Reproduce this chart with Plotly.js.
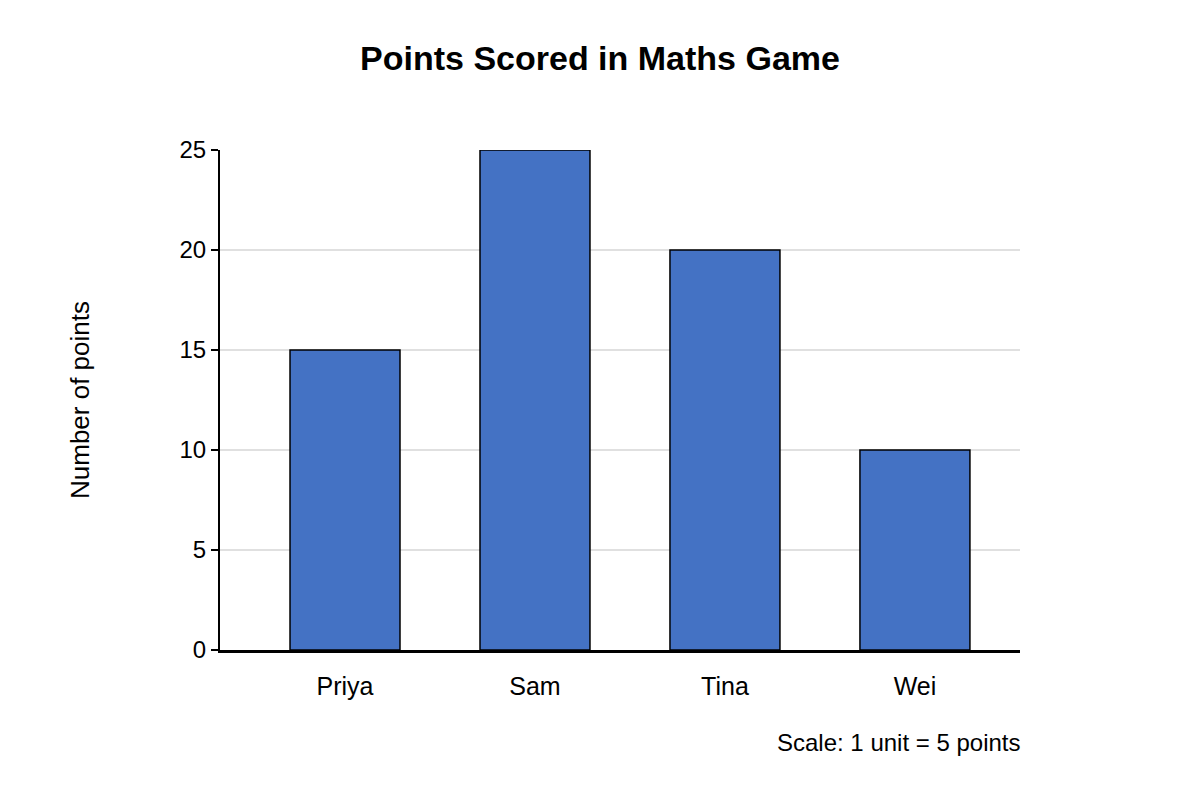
<!DOCTYPE html>
<html>
<head>
<meta charset="utf-8">
<script src="https://cdn.plot.ly/plotly-3.0.1.min.js"></script>
<style>html,body{margin:0;padding:0;background:#fff;}#chart{width:1200px;height:800px;}</style>
</head>
<body>
<div id="chart"></div>
<script>
const categories = ["Priya", "Sam", "Tina", "Wei"];
const points = [15, 25, 20, 10];
const yTicks = [0, 5, 10, 15, 20, 25];
const chartTitle = "Points Scored in Maths Game";
const yTitle = "Number of points";
const scaleNote = "Scale: 1 unit = 5 points";

const font = "Liberation Sans, Arial, sans-serif";

Plotly.newPlot("chart", [{
  type: "bar",
  x: categories,
  y: points,
  width: 0.579,
  marker: {color: "#4472C4", line: {color: "#000000", width: 1.5}},
  hoverinfo: "x+y"
}], {
  width: 1200, height: 800,
  paper_bgcolor: "#ffffff", plot_bgcolor: "#ffffff",
  margin: {l: 220, r: 180, t: 150, b: 150, pad: 0},
  font: {family: font, color: "#000"},
  title: {text: "<b>" + chartTitle + "</b>", font: {size: 34, family: font, color: "#000"}, x: 0.5, xanchor: "center", y: 0.927, yanchor: "middle"},
  showlegend: false,
  xaxis: {
    type: "category",
    range: [-0.658, 3.553],
    showline: true, linecolor: "#000", linewidth: 2.5,
    showgrid: false, ticks: "",
    tickfont: {size: 25, family: font, color: "#000"},
    ticklabelstandoff: 12,
    fixedrange: true
  },
  yaxis: {
    range: [0, 25],
    tickvals: yTicks,
    ticktext: yTicks.map(String),
    showline: true, linecolor: "#000", linewidth: 2,
    ticks: "outside", ticklen: 7, tickwidth: 1.5, tickcolor: "#000",
    showgrid: true, gridcolor: "#e0e0e0", gridwidth: 1.5,
    zeroline: false,
    tickfont: {size: 24, family: font, color: "#000"},
    title: {text: yTitle, font: {size: 26, family: font, color: "#000"}, standoff: 82},
    fixedrange: true
  },
  annotations: [{
    text: scaleNote, xref: "paper", yref: "paper", x: 1.004, y: -0.184,
    xanchor: "right", yanchor: "middle", showarrow: false,
    font: {size: 24, family: font, color: "#000"}
  }]
}, {displayModeBar: false, staticPlot: true});
</script>
</body>
</html>
